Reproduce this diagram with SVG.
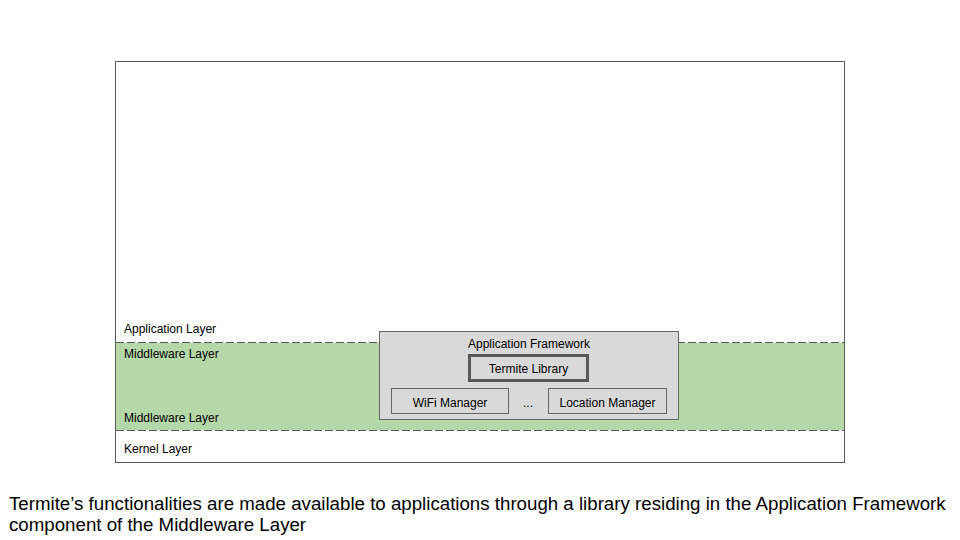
<svg xmlns="http://www.w3.org/2000/svg" width="960" height="540" viewBox="0 0 960 540">
<style>
text{font-family:"Liberation Sans",Arial,sans-serif;fill:#000}
.lbl{font-size:12px}
.box{fill:#d9d9d9;stroke:#666666;stroke-width:1}
.dash{stroke:#595959;stroke-width:1;stroke-dasharray:8,3;fill:none}
</style>
<rect width="960" height="540" fill="#ffffff"/>
<g id="layers">
<rect x="115.5" y="61.5" width="729" height="401" fill="#ffffff" stroke="#595959" stroke-width="1"/>
<rect x="116" y="343" width="728" height="87" fill="#b6d7a8"/>
<text class="lbl" x="124" y="333">Application Layer</text>
<text class="lbl" x="124" y="358">Middleware Layer</text>
<text class="lbl" x="124" y="421.5">Middleware Layer</text>
<text class="lbl" x="124" y="452.5">Kernel Layer</text>
</g>
<g id="connectors">
<line class="dash" x1="116" y1="342.5" x2="844" y2="342.5"/>
<line class="dash" x1="116" y1="430.5" x2="844" y2="430.5"/>
</g>
<g id="app-framework">
<rect class="box" x="379.5" y="331.5" width="299" height="88"/>
<text class="lbl" x="529" y="348" text-anchor="middle">Application Framework</text>
</g>
<g id="termite-library">
<rect x="469.5" y="355.5" width="118" height="25" fill="#d9d9d9" stroke="#595959" stroke-width="3"/>
<text class="lbl" x="528.5" y="372.5" text-anchor="middle">Termite Library</text>
</g>
<g id="wifi-manager">
<rect class="box" x="391.5" y="388.5" width="117" height="25"/>
<text class="lbl" x="450" y="406.5" text-anchor="middle">WiFi Manager</text>
</g>
<text class="lbl" x="528" y="406.5" text-anchor="middle">...</text>
<g id="location-manager">
<rect class="box" x="548.5" y="388.5" width="118" height="25"/>
<text class="lbl" x="607.5" y="406.5" text-anchor="middle">Location Manager</text>
</g>
<g id="caption">
<text x="9" y="510" font-size="18.7">Termite’s functionalities are made available to applications through a library residing in the Application Framework</text>
<text x="9" y="531" font-size="18.7">component of the Middleware Layer</text>
</g>
</svg>
